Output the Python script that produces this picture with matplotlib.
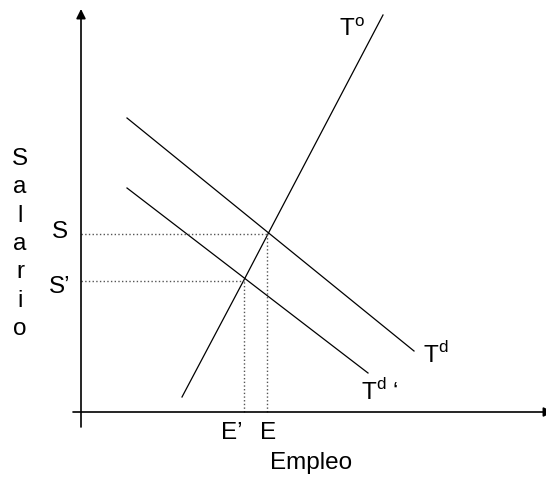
import numpy as np
import matplotlib
matplotlib.use('Agg')
import matplotlib.pyplot as plt

plt.rcParams['font.family'] = ['Liberation Sans', 'DejaVu Sans']
plt.rcParams['mathtext.fontset'] = 'custom'
plt.rcParams['mathtext.rm'] = 'Liberation Sans'

# >>> curves (origin at the axes crossing)
supply_x = [101, 164, 188, 302]
supply_y = [15, 134, 180, 397]
demand_x = [46, 333]
demand_y = [294, 61]
demand2_x = [46, 287]
demand2_y = [224, 39]

# equilibrium points: (E, S) and (E', S')
eq_x = [186, 163]
eq_y = [178, 131]
eq_xlabels = ['E', 'E\u2019']
eq_ylabels = ['S', 'S\u2019']

fig = plt.figure(figsize=(5.46, 4.78), dpi=100)
ax = fig.add_axes([0, 0, 1, 1])
ax.set_xlim(-81, 465)
ax.set_ylim(-66, 412)
ax.axis('off')

# axes with arrows
ax.annotate('', xy=(0, 403), xytext=(0, -15),
            arrowprops=dict(arrowstyle='-|>', lw=1.2, color='black', mutation_scale=14, shrinkA=0, shrinkB=0))
ax.annotate('', xy=(472, 0), xytext=(-8, 0),
            arrowprops=dict(arrowstyle='-|>', lw=1.2, color='black', mutation_scale=14, shrinkA=0, shrinkB=0),
            annotation_clip=False)

# curves
ax.plot(supply_x, supply_y, c='black', lw=0.9)
ax.plot(demand_x, demand_y, c='black', lw=0.9)
ax.plot(demand2_x, demand2_y, c='black', lw=0.9)

fs = 17.5
# dotted guides
x_off = [1, -12]
y_off = [2, -6]
for i in range(len(eq_x)):
    ax.plot([0, eq_x[i]], [eq_y[i], eq_y[i]], c='#555555', lw=1.0, ls=':')
    ax.plot([eq_x[i], eq_x[i]], [0, eq_y[i]], c='#555555', lw=1.0, ls=':')
    ax.text(eq_x[i] + x_off[i], -21, eq_xlabels[i], fontsize=fs, ha='center', va='center')
    ax.text(-21, eq_y[i] + y_off[i], eq_ylabels[i], fontsize=fs, ha='center', va='center')

# curve labels
ax.text(258, 382, r'T$^{\mathrm{o}}$', fontsize=fs, ha='left', va='center')
ax.text(342, 57, r'T$^{\mathrm{d}}$', fontsize=fs, ha='left', va='center')
ax.text(280, 20, 'T$^{\\mathrm{d}}$ \u2018', fontsize=fs, ha='left', va='center')

# axis titles
ax.text(230, -51, 'Empleo', fontsize=fs, ha='center', va='center')
ax.text(-61, 168, '\n'.join('Salario'), fontsize=fs, ha='center', va='center', linespacing=1.37)

fig.savefig('out.png', dpi=100)
